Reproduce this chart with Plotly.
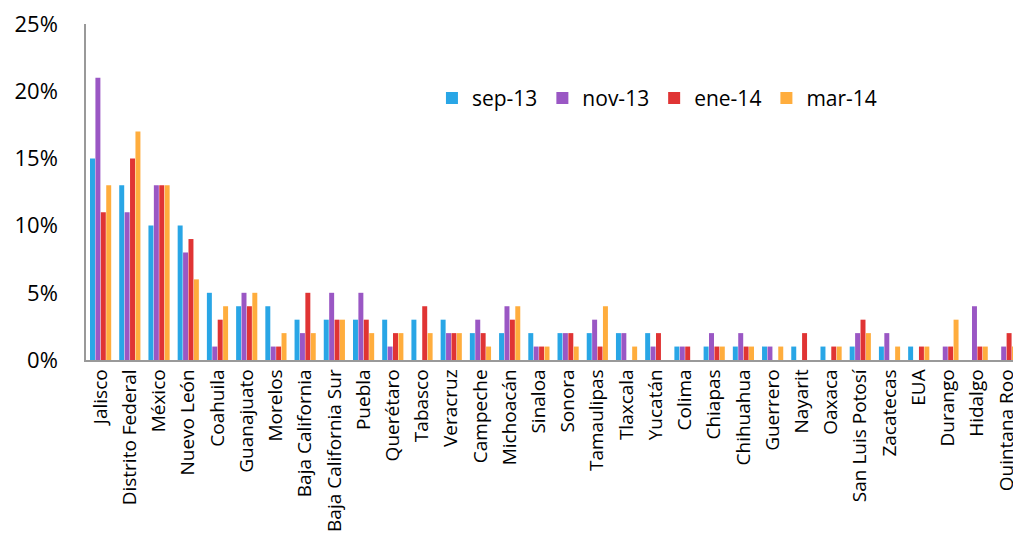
import plotly.graph_objects as go

categories = ["Jalisco", "Distrito Federal", "México", "Nuevo León", "Coahuila", "Guanajuato",
              "Morelos", "Baja California", "Baja California Sur", "Puebla", "Querétaro", "Tabasco",
              "Veracruz", "Campeche", "Michoacán", "Sinaloa", "Sonora", "Tamaulipas", "Tlaxcala",
              "Yucatán", "Colima", "Chiapas", "Chihuahua", "Guerrero", "Nayarit", "Oaxaca",
              "San Luis Potosí", "Zacatecas", "EUA", "Durango", "Hidalgo", "Quintana Roo"]

sep_13 = [15, 13, 10, 10, 5, 4, 4, 3, 3, 3, 3, 3, 3, 2, 2, 2, 2, 2, 2, 2, 1, 1, 1, 1, 1, 1, 1, 1, 1, 0, 0, 0]
nov_13 = [21, 11, 13, 8, 1, 5, 1, 2, 5, 5, 1, 0, 2, 3, 4, 1, 2, 3, 2, 1, 1, 2, 2, 1, 0, 0, 2, 2, 0, 1, 4, 1]
ene_14 = [11, 15, 13, 9, 3, 4, 1, 5, 3, 3, 2, 4, 2, 2, 3, 1, 2, 1, 0, 2, 1, 1, 1, 0, 2, 1, 3, 0, 1, 1, 1, 2]
mar_14 = [13, 17, 13, 6, 4, 5, 2, 2, 3, 2, 2, 2, 2, 1, 4, 1, 1, 4, 1, 0, 0, 1, 1, 1, 0, 1, 2, 1, 1, 3, 1, 1]

series = [("sep-13", sep_13, "#29A6E6"),
          ("nov-13", nov_13, "#9A57C4"),
          ("ene-14", ene_14, "#E03434"),
          ("mar-14", mar_14, "#FFAD3D")]

fig = go.Figure()
for name, vals, color in series:
    fig.add_trace(go.Bar(name=name, x=categories, y=[v / 100 for v in vals],
                         marker=dict(color=color, line=dict(width=0))))

fig.update_layout(
    barmode="group",
    bargap=0.26,
    bargroupgap=0.08,
    width=1013, height=544,
    margin=dict(l=78, r=0, t=10, b=192),
    paper_bgcolor="white", plot_bgcolor="white",
    font=dict(family="Open Sans, sans-serif", color="black"),
    legend=dict(orientation="h", x=0.37, y=0.84, xanchor="left", yanchor="top",
                font=dict(size=21), itemwidth=30, traceorder="normal",
                bgcolor="rgba(0,0,0,0)"),
    xaxis=dict(tickangle=-90, tickfont=dict(size=19), showline=True, linecolor="#999999",
               linewidth=1.5, ticks="", showgrid=False),
    yaxis=dict(range=[0, 0.25], dtick=0.05, tickformat=".0%", tickfont=dict(size=22),
               showline=True, linecolor="#999999", linewidth=1.5, showgrid=False,
               zeroline=False, ticks="", ticklen=0, ticklabeloverflow="allow",
               ticklabelstandoff=22),
)

fig.write_html("out.html")
